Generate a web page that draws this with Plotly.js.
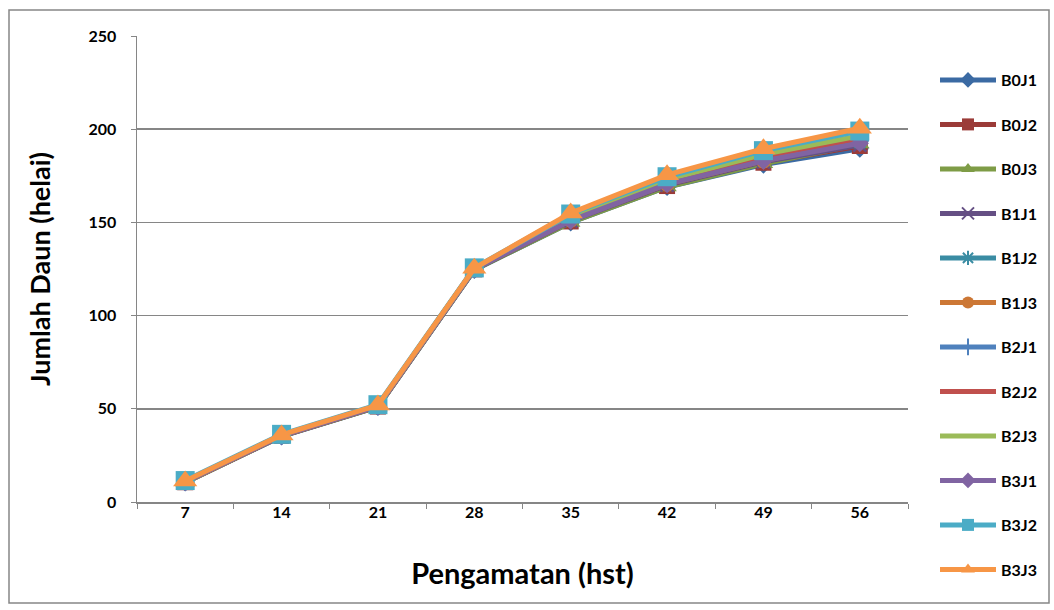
<!DOCTYPE html>
<html>
<head>
<meta charset="utf-8">
<script src="https://cdn.plot.ly/plotly-3.0.1.min.js"></script>
<style>html,body{margin:0;padding:0;background:#fff;}#chart{width:1054px;height:610px;}</style>
</head>
<body>
<div id="chart"></div>
<script>
const categories = ['7','14','21','28','35','42','49','56'];
const seriesNames = ['B0J1','B0J2','B0J3','B1J1','B1J2','B1J3','B2J1','B2J2','B2J3','B3J1','B3J2','B3J3'];
const B0J1 = [10.5, 35.2, 51.0, 124.5, 150.0, 169.0, 181.0, 189.5];
const B0J2 = [10.6, 35.5, 51.2, 124.8, 150.5, 169.5, 182.0, 191.0];
const B0J3 = [10.4, 35.3, 51.0, 124.6, 150.0, 169.0, 181.5, 192.0];
const B1J1 = [10.7, 35.4, 51.3, 124.7, 150.8, 170.0, 182.5, 191.5];
const B1J2 = [10.8, 35.6, 51.4, 124.9, 151.5, 170.8, 183.5, 193.0];
const B1J3 = [10.6, 35.5, 51.3, 125.0, 151.2, 170.5, 183.0, 193.5];
const B2J1 = [10.9, 35.7, 51.5, 125.1, 152.0, 171.5, 184.5, 194.0];
const B2J2 = [11.0, 35.8, 51.6, 125.2, 152.5, 172.0, 185.5, 195.0];
const B2J3 = [11.0, 35.9, 51.7, 125.3, 153.0, 173.0, 186.5, 196.5];
const B3J1 = [10.8, 35.6, 51.4, 125.0, 151.0, 170.5, 183.0, 192.5];
const B3J2 = [11.5, 36.3, 52.2, 125.6, 154.5, 174.5, 188.5, 199.0];
const B3J3 = [11.2, 36.0, 52.0, 125.4, 155.0, 175.5, 189.5, 200.5];
const seriesValues = [B0J1,B0J2,B0J3,B1J1,B1J2,B1J3,B2J1,B2J2,B2J3,B3J1,B3J2,B3J3];

const colors = ['#3B6AA3','#9B3B38','#7E9C46','#654F84','#3A8CA3','#CC7735',
                '#4F81BD','#C0504D','#9BBB59','#8064A2','#4BACC6','#F79646'];
const symbols = ['diamond','square','triangle-up','x-thin-open','asterisk-open','circle',
                 'cross-thin-open','line-ew-open','line-ew-open','diamond','square','triangle-up'];
const sizes = [14,16,17,13,13,15,13,10,12,14,19,21];

const FONT = 'Lato, "Open Sans", sans-serif';

const traces = [];
seriesNames.forEach((name, i) => {
  traces.push({
    type: 'scatter', mode: 'lines+markers', name: name,
    x: categories, y: seriesValues[i],
    legendgroup: 'g' + i,
    line: {color: colors[i], width: 5},
    marker: {symbol: symbols[i], size: sizes[i], color: colors[i],
             line: {color: colors[i], width: (symbols[i].indexOf('open') >= 0) ? 2.5 : 0}}
  });
});

const X0 = 137, X1 = 908, Y0 = 502, Y1 = 36;
const px = v => (v - X0) / (X1 - X0);
const py = v => (Y0 - v) / (Y0 - Y1);

const layout = {
  width: 1054, height: 610,
  margin: {l: X0, r: 1054 - X1, t: Y1, b: 610 - Y0},
  paper_bgcolor: '#ffffff', plot_bgcolor: '#ffffff',
  font: {family: FONT, color: '#000', size: 16, weight: 'bold'},
  showlegend: true,
  legend: {x: px(935), y: py(63), xanchor: 'left', yanchor: 'top',
           font: {family: FONT, size: 16, weight: 'bold', color: '#000'},
           traceorder: 'grouped', tracegroupgap: 20.7, itemsizing: 'constant',
           itemwidth: 56, maxheight: 600, bgcolor: 'rgba(0,0,0,0)'},
  xaxis: {
    type: 'category', range: [-0.5, 7.5], tickson: 'boundaries',
    ticks: 'outside', ticklen: 5, tickcolor: '#868686', tickwidth: 1,
    showline: true, linecolor: '#868686', linewidth: 1.5,
    showgrid: false, zeroline: false,
    ticklabelstandoff: -5,
    tickfont: {family: FONT, size: 16, weight: 'bold'},
    title: {text: 'Pengamatan (hst)', font: {family: FONT, size: 29, weight: 'bold'}, standoff: 44}
  },
  yaxis: {
    range: [0, 250], dtick: 50, tick0: 0,
    ticks: 'outside', ticklen: 5, tickcolor: '#868686', tickwidth: 1,
    showline: true, linecolor: '#868686', linewidth: 1.5,
    showgrid: true, gridcolor: '#868686', gridwidth: 1.5, zeroline: false,
    ticklabelstandoff: 11,
    tickfont: {family: FONT, size: 16, weight: 'bold'},
    title: {text: 'Jumlah Daun (helai)', font: {family: FONT, size: 27, weight: 'bold'}, standoff: 30}
  },
  shapes: [
    {type: 'rect', xref: 'paper', yref: 'paper', x0: px(9), x1: px(1049), y0: py(603), y1: py(10),
     line: {color: '#868686', width: 1.5}, fillcolor: 'rgba(0,0,0,0)', layer: 'below'}
  ]
};

Plotly.newPlot('chart', traces, layout, {staticPlot: true, displayModeBar: false});
</script>
</body>
</html>
